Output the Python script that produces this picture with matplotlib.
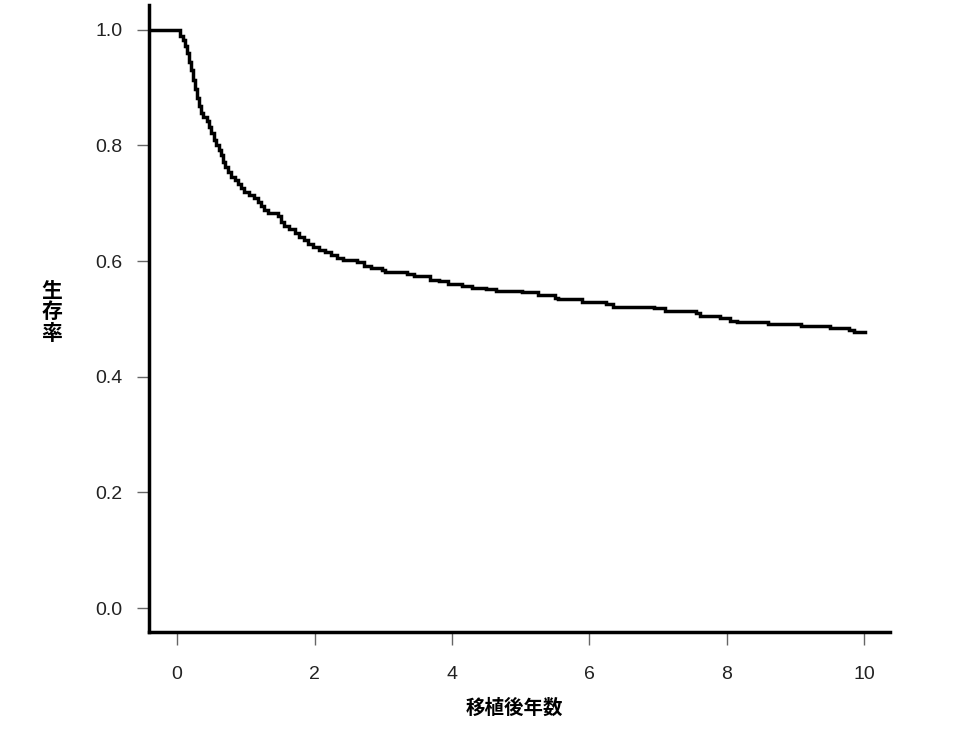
import matplotlib
matplotlib.use("Agg")
import matplotlib.pyplot as plt
import numpy as np

# Kaplan-Meier step data (time in years, survival after the step)
times = [0.00, 0.04, 0.08, 0.11, 0.14, 0.17, 0.20, 0.23, 0.26, 0.29, 0.32, 0.35, 0.38,
         0.43, 0.47, 0.50, 0.54, 0.57, 0.61, 0.64, 0.67, 0.70, 0.74, 0.79, 0.84, 0.88,
         0.93, 0.98, 1.05, 1.12, 1.17, 1.22, 1.27, 1.33, 1.47, 1.51, 1.56, 1.63, 1.71,
         1.77, 1.84, 1.91, 1.98, 2.06, 2.15, 2.24, 2.33, 2.42, 2.62, 2.72, 2.82, 2.98,
         3.03, 3.34, 3.45, 3.68, 3.82, 3.95, 4.15, 4.30, 4.50, 4.65, 5.02, 5.25, 5.50,
         5.55, 5.90, 6.25, 6.35, 6.95, 7.10, 7.55, 7.62, 7.90, 8.05, 8.15, 8.60, 9.08,
         9.50, 9.78, 9.85, 10.02]
survival = [1.000, 0.990, 0.982, 0.972, 0.960, 0.945, 0.930, 0.913, 0.897, 0.883, 0.868,
            0.856, 0.849, 0.842, 0.832, 0.821, 0.810, 0.801, 0.792, 0.784, 0.772, 0.762,
            0.754, 0.746, 0.740, 0.733, 0.726, 0.720, 0.715, 0.710, 0.703, 0.696, 0.689,
            0.684, 0.678, 0.668, 0.660, 0.655, 0.649, 0.642, 0.636, 0.630, 0.625, 0.620,
            0.616, 0.611, 0.606, 0.602, 0.598, 0.591, 0.588, 0.584, 0.581, 0.578, 0.574,
            0.568, 0.565, 0.561, 0.557, 0.554, 0.551, 0.549, 0.547, 0.542, 0.537, 0.534,
            0.530, 0.526, 0.521, 0.519, 0.514, 0.510, 0.505, 0.501, 0.497, 0.494, 0.491,
            0.488, 0.485, 0.481, 0.478, 0.478]
start_time = -0.41

xticks = [0, 2, 4, 6, 8, 10]
yticks = [0.0, 0.2, 0.4, 0.6, 0.8, 1.0]
xlabel = "移植後年数"
ylabel = "生存率"

fig = plt.figure(figsize=(9.79, 7.40), dpi=100)
ax = fig.add_axes([149/979, 1-632/740, (890-149)/979, (632-5)/740])

xs = [start_time] + times
ys = [1.0] + survival
ax.step(xs, ys, where="post", color="black", lw=2.5, solid_joinstyle="miter")

ax.set_xlim(-0.41, 10.38)
ax.set_ylim(-0.0415, 1.043)
ax.set_xticks(xticks)
ax.set_xticklabels([str(v) for v in xticks])
ax.set_yticks(yticks)
ax.set_yticklabels([f"{v:.1f}" for v in yticks])

for s in ["top", "right"]:
    ax.spines[s].set_visible(False)
for s in ["left", "bottom"]:
    ax.spines[s].set_linewidth(2.5)
    ax.spines[s].set_color("black")

ax.tick_params(axis="x", length=9, width=1, color="#666666", pad=15.5,
               labelsize=14, labelcolor="#222222")
ax.tick_params(axis="y", length=9, width=1, color="#666666", pad=10,
               labelsize=14, labelcolor="#222222")
for lab in ax.get_xticklabels() + ax.get_yticklabels():
    lab.set_fontfamily(["Liberation Sans", "DejaVu Sans"])

fig.text(514/979, 1-708/740, xlabel, ha="center", va="center", fontsize=14,
         family=["Noto Sans CJK JP", "DejaVu Sans"], fontweight="bold")
fig.text(52/979, 1-312/740, "\n".join(ylabel), ha="center", va="center", fontsize=15,
         family=["Noto Sans CJK JP", "DejaVu Sans"], fontweight="bold", linespacing=1.05)

fig.savefig("out.png", dpi=100, facecolor="white")
